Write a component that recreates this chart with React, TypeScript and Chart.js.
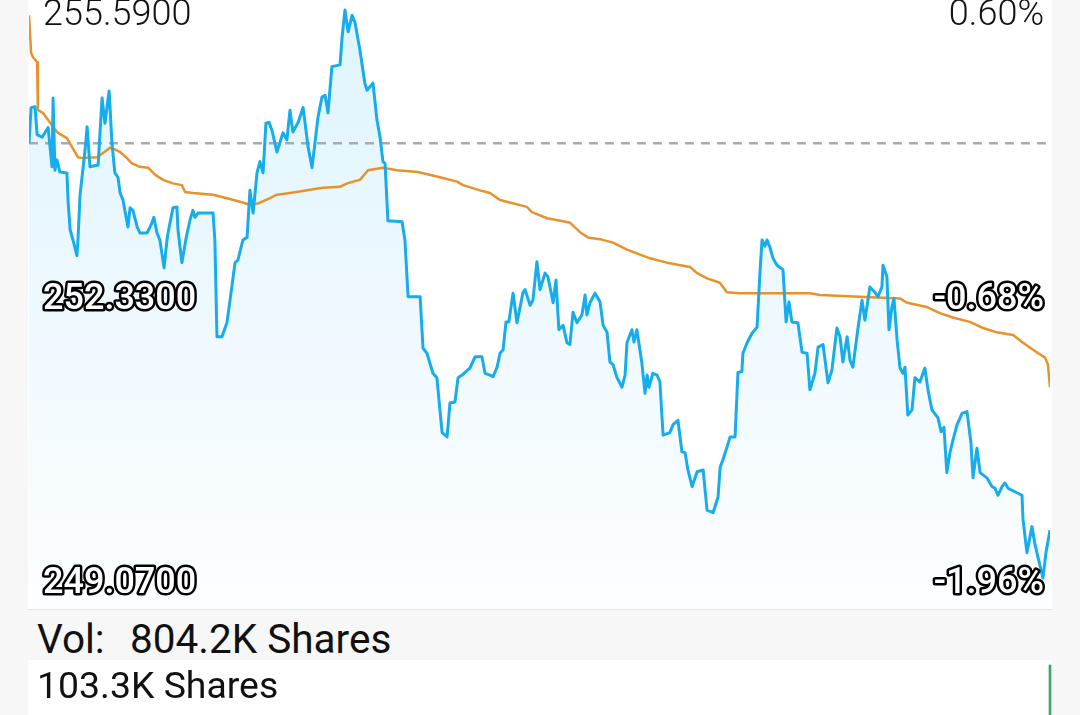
import React, { useEffect, useRef } from "react";
import { Chart, registerables } from "chart.js";

Chart.register(...registerables);

// ---- data ----
// minutes after the 9:30 open (0..390) and last price
const priceMinutes = [
  0, 0.8, 2.3, 3.1, 5.0, 7.3, 8.8, 9.2, 9.9, 10.7,
  11.8, 14.5, 14.9, 15.7, 16.8, 18.3, 18.7, 19.5, 21.4, 22.2,
  23.3, 26.4, 27.9, 29.0, 30.6, 31.7, 32.8, 34.0, 34.8, 35.9,
  37.8, 38.6, 39.7, 41.3, 42.4, 45.1, 46.6, 47.7, 48.9, 50.0,
  51.6, 52.7, 53.1, 55.0, 56.5, 56.9, 58.4, 60.0, 61.5, 62.6,
  63.4, 64.6, 70.3, 71.0, 71.8, 73.7, 75.6, 76.8, 78.7, 79.8,
  81.7, 83.3, 84.4, 85.6, 87.1, 88.2, 89.4, 90.5, 91.7, 92.8,
  94.7, 97.0, 98.5, 99.7, 100.8, 102.8, 104.7, 106.6, 108.1, 109.2,
  110.4, 111.9, 113.1, 114.2, 115.7, 118.8, 119.6, 120.7, 121.9, 123.4,
  124.5, 126.4, 128.3, 129.1, 131.4, 132.9, 134.1, 135.2, 136.0, 137.1,
  142.5, 143.6, 144.8, 149.4, 150.5, 152.0, 154.3, 155.8, 157.8, 159.7,
  160.8, 162.7, 163.9, 165.4, 168.4, 170.4, 173.0, 174.2, 176.1, 177.2,
  178.8, 179.9, 181.1, 182.2, 183.3, 184.9, 186.4, 188.7, 189.5, 191.4,
  192.5, 194.0, 195.2, 197.1, 198.2, 200.2, 201.3, 202.4, 204.0, 205.5,
  206.6, 207.8, 209.3, 211.2, 212.4, 213.1, 214.3, 216.2, 218.1, 219.3,
  220.8, 221.9, 223.1, 224.6, 226.5, 227.7, 228.4, 230.3, 231.1, 232.2,
  234.1, 235.3, 236.1, 236.8, 238.3, 239.9, 241.0, 242.2, 244.8, 246.0,
  247.9, 249.4, 250.6, 251.7, 253.3, 255.2, 257.5, 259.0, 261.3, 263.2,
  264.0, 265.1, 266.6, 267.8, 269.7, 270.8, 272.3, 272.7, 274.3, 276.2,
  278.1, 279.2, 280.0, 281.1, 281.9, 283.0, 284.2, 285.7, 288.0, 289.2,
  290.3, 291.4, 293.7, 295.3, 297.2, 298.3, 300.2, 301.4, 303.3, 305.2,
  306.7, 308.6, 309.8, 310.9, 312.5, 313.6, 314.7, 316.7, 318.2, 319.3,
  321.2, 323.1, 324.3, 325.8, 326.2, 327.7, 328.5, 329.6, 330.4, 331.6,
  332.7, 333.8, 334.6, 335.7, 337.3, 338.4, 340.3, 342.2, 343.4, 344.9,
  347.2, 348.4, 349.5, 350.6, 351.8, 352.9, 354.5, 356.4, 358.3, 359.8,
  360.6, 362.1, 363.3, 365.9, 367.8, 369.0, 370.1, 371.7, 372.8, 374.0,
  376.6, 379.3, 379.7, 381.2, 383.1, 384.3, 385.4, 387.3, 388.5, 390.0,
];

const prices = [
  254.06, 254.47, 254.48, 254.16, 254.13, 254.24, 253.79, 254.58, 253.75, 253.87,
  253.73, 253.72, 253.41, 253.07, 252.95, 252.77, 252.95, 253.47, 253.98, 254.25,
  253.79, 253.81, 254.58, 254.29, 254.66, 254.06, 253.72, 253.67, 253.49, 253.41,
  253.10, 253.32, 253.29, 253.10, 253.03, 253.03, 253.12, 253.21, 253.03, 252.95,
  252.63, 252.95, 253.03, 253.32, 253.33, 253.07, 252.69, 252.97, 253.18, 253.29,
  253.21, 253.26, 253.26, 252.95, 251.84, 251.84, 252.00, 252.26, 252.69, 252.72,
  252.95, 252.98, 253.52, 253.26, 253.72, 253.85, 253.72, 254.29, 254.30, 254.21,
  253.96, 254.18, 254.10, 254.44, 254.19, 254.30, 254.47, 254.02, 253.78, 254.06,
  254.36, 254.59, 254.61, 254.41, 254.94, 254.96, 255.28, 255.59, 255.34, 255.53,
  255.45, 255.13, 254.75, 254.67, 254.75, 254.33, 254.13, 253.85, 253.83, 253.17,
  253.16, 252.95, 252.30, 252.30, 251.71, 251.65, 251.42, 251.37, 250.74, 250.69,
  251.08, 251.09, 251.37, 251.40, 251.48, 251.61, 251.61, 251.42, 251.40, 251.38,
  251.49, 251.65, 251.69, 252.01, 252.01, 252.34, 252.00, 252.35, 252.38, 252.20,
  252.26, 252.70, 252.38, 252.57, 252.53, 252.23, 252.49, 251.92, 251.97, 251.77,
  251.75, 252.12, 252.00, 252.09, 252.32, 252.09, 252.23, 252.34, 252.24, 251.97,
  251.89, 251.55, 251.52, 251.37, 251.26, 251.40, 251.77, 251.92, 251.78, 251.92,
  251.54, 251.19, 251.40, 251.26, 251.42, 251.40, 251.32, 250.71, 250.74, 250.83,
  250.88, 250.52, 250.51, 250.31, 250.12, 250.29, 250.31, 249.85, 249.82, 250.00,
  250.34, 250.43, 250.57, 250.69, 250.69, 251.43, 251.44, 251.65, 251.77, 251.88,
  251.95, 252.57, 252.95, 252.88, 252.95, 252.87, 252.74, 252.66, 252.61, 252.01,
  252.24, 252.01, 252.00, 251.66, 251.65, 251.23, 251.42, 251.72, 251.75, 251.31,
  251.46, 251.94, 251.84, 251.55, 251.84, 251.57, 251.49, 251.95, 252.26, 252.03,
  252.41, 252.35, 252.30, 252.41, 252.66, 252.53, 251.92, 252.18, 252.28, 251.80,
  251.48, 251.42, 251.49, 250.94, 251.00, 251.37, 251.32, 251.48, 251.23, 251.00,
  250.91, 250.75, 250.80, 250.28, 250.51, 250.65, 250.83, 250.96, 250.98, 250.62,
  250.22, 250.56, 250.28, 250.22, 250.12, 250.10, 250.02, 250.12, 250.16, 250.10,
  250.06, 250.02, 249.74, 249.36, 249.66, 249.45, 249.31, 249.07, 249.37, 249.62,
];

// average price line (minutes, price)
const avgMinutes = [
  0, 0.8, 1.5, 3.1, 3.4, 5.3, 8.0, 9.2, 11.1, 14.5,
  16.4, 18.7, 20.6, 26.0, 28.3, 30.9, 32.8, 34.8, 37.4, 39.3,
  42.4, 45.5, 48.1, 51.2, 55.0, 58.4, 59.6, 62.6, 70.3, 75.6,
  80.6, 83.7, 87.5, 92.1, 94.7, 99.7, 106.2, 112.3, 118.8, 121.5,
  123.8, 126.4, 129.5, 135.2, 140.6, 148.6, 157.0, 163.5, 165.8, 172.3,
  176.1, 179.9, 190.2, 192.1, 197.9, 206.6, 210.5, 213.5, 218.1, 223.1,
  228.4, 237.2, 243.7, 252.5, 255.2, 259.0, 263.9, 266.6, 271.6, 283.0,
  298.3, 302.1, 317.4, 332.7, 335.4, 343.0, 348.0, 352.9, 359.4, 364.4,
  369.7, 375.9, 379.7, 383.5, 388.1, 389.2, 390.0,
];

const avgPrices = [
  255.53, 255.10, 255.05, 254.99, 254.44, 254.41, 254.30, 254.24, 254.18, 254.12,
  254.02, 253.90, 253.89, 253.90, 253.95, 254.01, 253.99, 253.96, 253.89, 253.83,
  253.79, 253.78, 253.70, 253.64, 253.60, 253.58, 253.50, 253.49, 253.47, 253.43,
  253.39, 253.36, 253.37, 253.43, 253.47, 253.49, 253.52, 253.55, 253.56, 253.60,
  253.62, 253.64, 253.75, 253.78, 253.75, 253.73, 253.67, 253.62, 253.58, 253.52,
  253.49, 253.41, 253.33, 253.27, 253.20, 253.15, 253.04, 252.98, 252.96, 252.92,
  252.84, 252.74, 252.69, 252.64, 252.57, 252.51, 252.46, 252.35, 252.34, 252.34,
  252.34, 252.32, 252.30, 252.28, 252.23, 252.18, 252.11, 252.06, 252.01, 251.94,
  251.89, 251.86, 251.77, 251.69, 251.60, 251.52, 251.26,
];

const prevClose = 254.06;
const priceTickValues = [255.59, 252.33, 249.07];
const priceTickLabels = ["255.5900", "252.3300", "249.0700"];
const pctTickLabels = ["0.60%", "-0.68%", "-1.96%"];

const volumeMinutes = [390];
const volumesK = [103.3];
const volumeMaxK = 103.3;
const totalVolumeLabel = "804.2K Shares";
const maxVolumeLabel = "103.3K Shares";

// ---- layout ----
const Y_TOP = 255.705;
const Y_BOTTOM = 248.703;
const PANEL_LEFT = 28;
const PANEL_WIDTH = 1024;

const overlayPlugin = {
  id: "overlay",
  beforeDatasetsDraw(chart: any) {
    const { ctx, chartArea, scales } = chart;
    const y = scales.y.getPixelForValue(prevClose);
    ctx.save();
    ctx.strokeStyle = "#a6aab5";
    ctx.lineWidth = 2.6;
    ctx.setLineDash([9, 7]);
    ctx.beginPath();
    ctx.moveTo(chartArea.left, y);
    ctx.lineTo(chartArea.right - 4, y);
    ctx.stroke();
    ctx.restore();
  },
  afterDatasetsDraw(chart: any) {
    const { ctx, scales } = chart;
    const leftX = 15;
    const rightX = 1016;
    ctx.save();
    priceTickValues.forEach((v, i) => {
      const yb = scales.y.getPixelForValue(v) + 15;
      ctx.textBaseline = "alphabetic";
      if (i === 0) {
        ctx.font = "300 36px Roboto";
        ctx.fillStyle = "#111";
        ctx.textAlign = "left";
        ctx.fillText(priceTickLabels[i], leftX, yb);
        ctx.textAlign = "right";
        ctx.fillText(pctTickLabels[i], rightX, yb);
      } else {
        ctx.font = "500 36px Roboto";
        ctx.lineJoin = "round";
        ctx.lineWidth = 5;
        ctx.strokeStyle = "#000";
        ctx.fillStyle = "#fff";
        ctx.textAlign = "left";
        ctx.strokeText(priceTickLabels[i], leftX, yb);
        ctx.fillText(priceTickLabels[i], leftX, yb);
        ctx.textAlign = "right";
        ctx.strokeText(pctTickLabels[i], rightX, yb);
        ctx.fillText(pctTickLabels[i], rightX, yb);
      }
    });
    ctx.restore();
  },
};

export default function App() {
  const priceRef = useRef<HTMLCanvasElement | null>(null);
  const volRef = useRef<HTMLCanvasElement | null>(null);

  useEffect(() => {
    document.body.style.margin = "0";
    const pricePoints = priceMinutes.map((m, i) => ({ x: m, y: prices[i] }));
    const avgPoints = avgMinutes.map((m, i) => ({ x: m, y: avgPrices[i] }));

    const priceChart = new Chart(priceRef.current as HTMLCanvasElement, {
      type: "line",
      data: {
        datasets: [
          {
            data: pricePoints,
            borderColor: "#17adea",
            borderWidth: 3,
            borderJoinStyle: "round",
            pointRadius: 0,
            tension: 0,
            fill: "start",
            backgroundColor: (c: any) => {
              const area = c.chart.chartArea;
              if (!area) return "rgba(225,245,253,1)";
              const g = c.chart.ctx.createLinearGradient(0, area.top, 0, area.bottom);
              g.addColorStop(0, "rgb(222,244,253)");
              g.addColorStop(1, "rgb(253,254,255)");
              return g;
            },
          },
          {
            data: avgPoints,
            borderColor: "#e8922c",
            borderWidth: 2.5,
            borderJoinStyle: "round",
            pointRadius: 0,
            tension: 0,
            fill: false,
          },
        ],
      } as any,
      options: {
        animation: false,
        responsive: false,
        devicePixelRatio: 1,
        events: [],
        layout: { padding: { left: 1, right: 2, top: 0, bottom: 0 } },
        scales: {
          x: { type: "linear", min: 0, max: 390, display: false },
          y: { type: "linear", min: Y_BOTTOM, max: Y_TOP, display: false },
        },
        plugins: {
          legend: { display: false },
          tooltip: { enabled: false },
          filler: { drawTime: "beforeDatasetsDraw" },
        },
      } as any,
      plugins: [overlayPlugin],
    });

    const volChart = new Chart(volRef.current as HTMLCanvasElement, {
      type: "bar",
      data: {
        datasets: [
          {
            data: volumeMinutes.map((m, i) => ({ x: m, y: volumesK[i] })),
            backgroundColor: "#3aa86a",
            barThickness: 2,
            clip: false,
          },
        ],
      } as any,
      options: {
        animation: false,
        responsive: false,
        devicePixelRatio: 1,
        events: [],
        layout: { padding: { left: 1, right: 2, top: 5, bottom: 0 } },
        scales: {
          x: { type: "linear", min: 0, max: 390, offset: false, display: false },
          y: { min: 0, max: volumeMaxK, display: false },
        },
        plugins: { legend: { display: false }, tooltip: { enabled: false } },
      } as any,
    });

    return () => {
      priceChart.destroy();
      volChart.destroy();
    };
  }, []);

  const textBase: React.CSSProperties = {
    position: "absolute",
    fontFamily: "Roboto, 'DejaVu Sans', sans-serif",
    color: "#111",
    lineHeight: 1,
    whiteSpace: "nowrap",
  };

  return (
    <div
      style={{
        position: "fixed",
        left: 0,
        top: 0,
        width: 1080,
        height: 715,
        background: "#f7f7f7",
        overflow: "hidden",
      }}
    >
      <div
        style={{
          position: "absolute",
          left: PANEL_LEFT,
          top: 0,
          width: PANEL_WIDTH,
          height: 610,
          background: "#fff",
        }}
      >
        <canvas ref={priceRef} width={PANEL_WIDTH} height={610} style={{ display: "block" }} />
      </div>
      <div
        style={{
          position: "absolute",
          left: PANEL_LEFT,
          top: 609,
          width: PANEL_WIDTH,
          height: 1,
          background: "#e6e6e6",
        }}
      />
      <div style={{ ...textBase, left: 37, top: 619, fontSize: 40.5 }}>Vol:</div>
      <div style={{ ...textBase, left: 130, top: 619, fontSize: 40.5 }}>{totalVolumeLabel}</div>
      <div
        style={{
          position: "absolute",
          left: PANEL_LEFT,
          top: 660,
          width: PANEL_WIDTH,
          height: 240,
          background: "#fff",
        }}
      >
        <canvas ref={volRef} width={PANEL_WIDTH} height={240} style={{ display: "block" }} />
      </div>
      <div style={{ ...textBase, left: 37, top: 666.5, fontSize: 37.4 }}>{maxVolumeLabel}</div>
    </div>
  );
}
